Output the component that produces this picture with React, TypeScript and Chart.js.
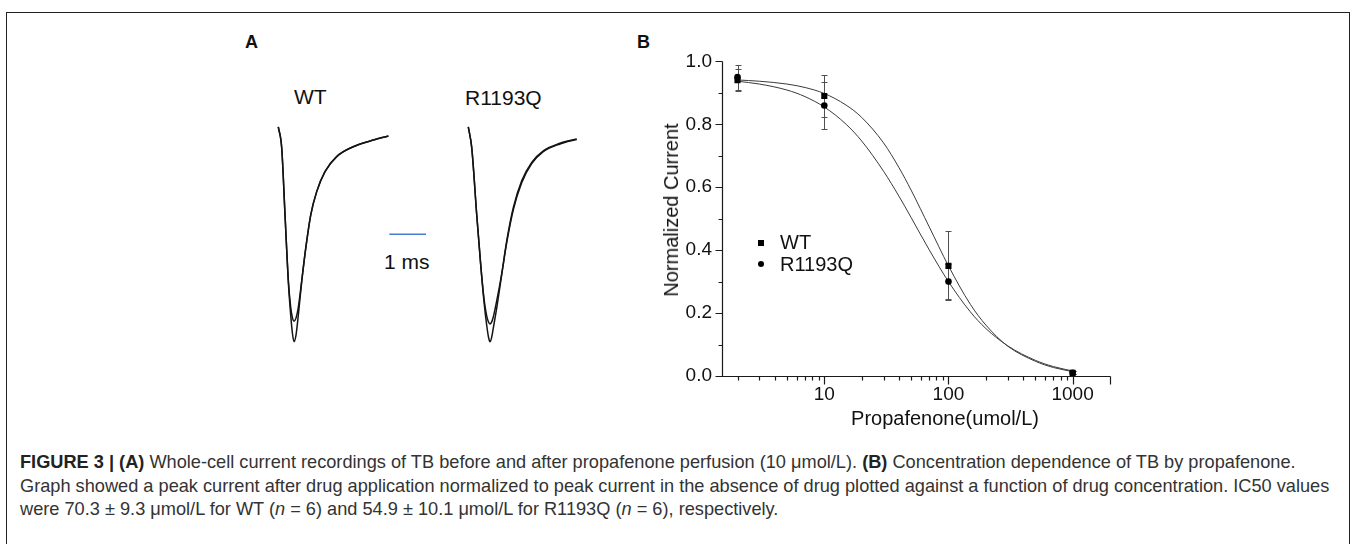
import React, { useEffect, useRef } from "react";
import { Chart, registerables } from "chart.js";

Chart.register(...registerables);

// ---------------- Panel A: whole-cell current traces (time in ms, current normalised to control peak)
const wtTime = [0, 0.093, 0.183, 0.272, 0.338, 0.387, 0.428, 0.482, 0.545, 0.638, 0.747, 0.883, 1.046, 1.272, 1.59, 2.04, 2.5, 3.0];
const wtControl = [0, -0.098, -0.41, -0.72, -0.876, -0.964, -1.0, -0.969, -0.876, -0.72, -0.565, -0.41, -0.301, -0.208, -0.138, -0.092, -0.065, -0.042];
const wtDrug = [0, -0.098, -0.41, -0.71, -0.84, -0.89, -0.904, -0.89, -0.84, -0.715, -0.565, -0.41, -0.301, -0.208, -0.138, -0.092, -0.065, -0.042];

const r1193qTime = [0, 0.093, 0.229, 0.338, 0.428, 0.501, 0.55, 0.591, 0.632, 0.681, 0.774, 0.91, 1.046, 1.226, 1.455, 1.728, 2.044, 2.499, 2.954];
const r1193qControl = [0, -0.095, -0.407, -0.641, -0.813, -0.922, -0.978, -1.0, -0.983, -0.937, -0.844, -0.688, -0.532, -0.376, -0.251, -0.165, -0.111, -0.076, -0.056];
const r1193qDrug = [0, -0.095, -0.407, -0.641, -0.8, -0.88, -0.908, -0.917, -0.91, -0.885, -0.81, -0.685, -0.54, -0.386, -0.26, -0.171, -0.115, -0.079, -0.058];

const scaleBarMs = 1;

// ---------------- Panel B: concentration dependence
const concentrations = [2, 10, 100, 1000];
const wtMean = [0.94, 0.89, 0.35, 0.01];
const wtErr = [0.035, 0.066, 0.11, 0.005];
const r1193qMean = [0.95, 0.86, 0.3, 0.01];
const r1193qErr = [0.04, 0.075, 0.056, 0.005];

// fitted curves
const fitConc = [2, 3, 5, 7, 10, 15, 20, 30, 40, 50, 70, 100, 150, 200, 300, 500, 700, 1000];
const wtFit = [0.941, 0.937, 0.928, 0.917, 0.898, 0.861, 0.822, 0.741, 0.662, 0.591, 0.474, 0.35, 0.228, 0.162, 0.095, 0.047, 0.027, 0.014];
const r1193qFit = [0.937, 0.928, 0.909, 0.888, 0.855, 0.8, 0.747, 0.651, 0.571, 0.504, 0.401, 0.3, 0.204, 0.151, 0.096, 0.05, 0.03, 0.016];

const xMajorTicks = [10, 100, 1000];
const xMinorTicks = [2, 3, 4, 5, 6, 7, 8, 9, 20, 30, 40, 50, 60, 70, 80, 90, 200, 300, 400, 500, 600, 700, 800, 900];
const xEndTicks = [2000];
const yMajorTicks = [0, 0.2, 0.4, 0.6, 0.8, 1.0];
const yMinorTicks = [0.1, 0.3, 0.5, 0.7, 0.9];

const FONT = "'Liberation Sans', Arial, Helvetica, sans-serif";

// ---------------- layout (positions only)
const A_BOX = { left: 260, top: 110, width: 340, height: 250 };
const A_X = { min: -0.499, max: 8.766 };
const A_Y = { min: -1.085, max: 0.079 };
const R_OFFSET = 5.177;
const BAR_START = 3.025;
const BAR_LEVEL = -0.5;

const B_BOX = { left: 600, top: 40, width: 540, height: 400 };

function TracesChart() {
  const ref = useRef<HTMLCanvasElement | null>(null);
  useEffect(() => {
    if (!ref.current) return;
    const trace = (t: number[], v: number[], off: number) => t.map((x, i) => ({ x: x + off, y: v[i] }));
    const lineDs = (data: any[], color = "#141414", w = 1.5) => ({
      data,
      borderColor: color,
      borderWidth: w,
      pointRadius: 0,
      fill: false,
      cubicInterpolationMode: "monotone" as const,
    });
    const chart = new Chart(ref.current, {
      type: "line",
      data: {
        datasets: [
          lineDs(trace(wtTime, wtControl, 0)),
          lineDs(trace(wtTime, wtDrug, 0)),
          lineDs(trace(r1193qTime, r1193qControl, R_OFFSET)),
          lineDs(trace(r1193qTime, r1193qDrug, R_OFFSET)),
          lineDs(
            [
              { x: BAR_START, y: BAR_LEVEL },
              { x: BAR_START + scaleBarMs, y: BAR_LEVEL },
            ],
            "#4a7bd0",
            1.5
          ),
        ],
      },
      options: {
        animation: false,
        responsive: false,
        maintainAspectRatio: false,
        layout: { padding: 0 },
        plugins: { legend: { display: false }, tooltip: { enabled: false } },
        scales: {
          x: { type: "linear", display: false, min: A_X.min, max: A_X.max },
          y: { type: "linear", display: false, min: A_Y.min, max: A_Y.max },
        },
      },
    });
    return () => chart.destroy();
  }, []);
  return (
    <canvas
      ref={ref}
      width={A_BOX.width}
      height={A_BOX.height}
      style={{ position: "absolute", left: A_BOX.left, top: A_BOX.top, width: A_BOX.width, height: A_BOX.height }}
    />
  );
}

function DoseChart() {
  const ref = useRef<HTMLCanvasElement | null>(null);
  useEffect(() => {
    if (!ref.current) return;
    const axesPlugin = {
      id: "bAxes",
      beforeDatasetsDraw(chart: any) {
        const { ctx, scales } = chart;
        const x = scales.x;
        const y = scales.y;
        ctx.save();
        ctx.strokeStyle = "#505050";
        ctx.lineWidth = 1;
        const bars = (means: number[], errs: number[]) => {
          means.forEach((m, i) => {
            const px = Math.round(x.getPixelForValue(concentrations[i])) + 0.5;
            const t = Math.round(y.getPixelForValue(m + errs[i])) + 0.5;
            const b = Math.round(y.getPixelForValue(m - errs[i])) + 0.5;
            ctx.beginPath();
            ctx.moveTo(px, t);
            ctx.lineTo(px, b);
            ctx.moveTo(px - 3, t);
            ctx.lineTo(px + 3, t);
            ctx.moveTo(px - 3, b);
            ctx.lineTo(px + 3, b);
            ctx.stroke();
          });
        };
        bars(wtMean, wtErr);
        bars(r1193qMean, r1193qErr);
        ctx.restore();
      },
      afterDraw(chart: any) {
        const { ctx, scales } = chart;
        const x = scales.x;
        const y = scales.y;
        const x0 = Math.round(x.getPixelForValue(x.min)) + 0.5;
        const x1 = Math.round(x.getPixelForValue(x.max)) + 0.5;
        const y0 = Math.round(y.getPixelForValue(0)) + 0.5;
        const y1 = Math.round(y.getPixelForValue(1)) + 0.5;
        ctx.save();
        ctx.strokeStyle = "#1a1a1a";
        ctx.lineWidth = 1.2;
        ctx.beginPath();
        ctx.moveTo(x0, y1);
        ctx.lineTo(x0, y0);
        ctx.lineTo(x1, y0);
        ctx.stroke();
        ctx.beginPath();
        yMajorTicks.forEach((v) => {
          const p = Math.round(y.getPixelForValue(v)) + 0.5;
          ctx.moveTo(x0, p);
          ctx.lineTo(x0 - 7, p);
        });
        yMinorTicks.forEach((v) => {
          const p = Math.round(y.getPixelForValue(v)) + 0.5;
          ctx.moveTo(x0, p);
          ctx.lineTo(x0 - 4, p);
        });
        [...xMajorTicks, ...xEndTicks].forEach((v) => {
          const p = Math.round(x.getPixelForValue(v)) + 0.5;
          ctx.moveTo(p, y0);
          ctx.lineTo(p, y0 + 8);
        });
        xMinorTicks.forEach((v) => {
          const p = Math.round(x.getPixelForValue(v)) + 0.5;
          ctx.moveTo(p, y0);
          ctx.lineTo(p, y0 + 4);
        });
        ctx.stroke();
        ctx.restore();
      },
    };

    const chart = new Chart(ref.current, {
      type: "line",
      data: {
        datasets: [
          {
            label: "WT",
            data: concentrations.map((c, i) => ({ x: c, y: wtMean[i] })),
            showLine: false,
            pointStyle: "rect",
            pointRadius: 4.3,
            backgroundColor: "#000",
            borderColor: "#000",
            borderWidth: 0,
            order: 0,
          },
          {
            label: "R1193Q",
            data: concentrations.map((c, i) => ({ x: c, y: r1193qMean[i] })),
            showLine: false,
            pointStyle: "circle",
            pointRadius: 3.3,
            backgroundColor: "#000",
            borderColor: "#000",
            borderWidth: 0,
            order: 1,
          },
          {
            label: "WT fit",
            data: fitConc.map((c, i) => ({ x: c, y: wtFit[i] })),
            borderColor: "#3a3a3a",
            borderWidth: 1,
            pointRadius: 0,
            fill: false,
            cubicInterpolationMode: "monotone",
            order: 2,
          },
          {
            label: "R1193Q fit",
            data: fitConc.map((c, i) => ({ x: c, y: r1193qFit[i] })),
            borderColor: "#3a3a3a",
            borderWidth: 1,
            pointRadius: 0,
            fill: false,
            cubicInterpolationMode: "monotone",
            order: 3,
          },
        ],
      },
      options: {
        animation: false,
        responsive: false,
        maintainAspectRatio: false,
        layout: { padding: { top: 17, right: 30, left: 0, bottom: 0 } },
        plugins: { legend: { display: false }, tooltip: { enabled: false } },
        scales: {
          x: {
            type: "logarithmic",
            min: 1.5,
            max: 2000,
            grid: { display: false, drawTicks: false },
            border: { display: false },
            ticks: {
              color: "#111",
              font: { family: FONT, size: 19 },
              padding: 7,
              autoSkip: false,
              maxRotation: 0,
              callback: (v: any) => String(v),
            },
            afterBuildTicks: (s: any) => {
              s.ticks = xMajorTicks.map((v) => ({ value: v }));
            },
            afterFit: (s: any) => {
              s.height = 64;
            },
          },
          y: {
            type: "linear",
            min: 0,
            max: 1,
            grid: { display: false, drawTicks: false },
            border: { display: false },
            ticks: {
              color: "#111",
              font: { family: FONT, size: 19 },
              padding: 10,
              stepSize: 0.2,
              callback: (v: any) => Number(v).toFixed(1),
            },
            afterBuildTicks: (s: any) => {
              s.ticks = yMajorTicks.map((v) => ({ value: v }));
            },
            afterFit: (s: any) => {
              s.width = 122;
            },
          },
        },
      },
      plugins: [axesPlugin],
    });
    return () => chart.destroy();
  }, []);
  return (
    <canvas
      ref={ref}
      width={B_BOX.width}
      height={B_BOX.height}
      style={{ position: "absolute", left: B_BOX.left, top: B_BOX.top, width: B_BOX.width, height: B_BOX.height }}
    />
  );
}

const abs = (left: number, top: number, extra: React.CSSProperties = {}): React.CSSProperties => ({
  position: "absolute",
  left,
  top,
  whiteSpace: "nowrap",
  ...extra,
});

export default function App() {
  const capLine: React.CSSProperties = { whiteSpace: "nowrap", height: 23.5, lineHeight: "23.5px" };
  return (
    <div
      style={{
        position: "absolute",
        left: 0,
        top: 0,
        width: 1357,
        height: 544,
        overflow: "hidden",
        background: "#fff",
        fontFamily: FONT,
        color: "#111",
      }}
    >
      <div
        style={{
          position: "absolute",
          left: 6,
          top: 12,
          width: 1344,
          height: 532,
          boxSizing: "border-box",
          border: "1px solid #222",
          borderBottom: "none",
        }}
      />
      {/* panel letters */}
      <div style={abs(245, 31, { fontWeight: "bold", fontSize: 18, lineHeight: "22px" })}>A</div>
      <div style={abs(637, 31, { fontWeight: "bold", fontSize: 18, lineHeight: "22px" })}>B</div>

      {/* panel A labels */}
      <div style={abs(294, 85, { fontSize: 21, lineHeight: "24px" })}>WT</div>
      <div style={abs(465, 86, { fontSize: 21, lineHeight: "24px" })}>R1193Q</div>
      <div style={abs(384, 250, { fontSize: 21, lineHeight: "24px" })}>1 ms</div>
      <TracesChart />

      {/* panel B */}
      <DoseChart />
      <div style={abs(945, 418, { fontSize: 20, lineHeight: "24px", transform: "translate(-50%, -50%)" })}>
        Propafenone(umol/L)
      </div>
      <div
        style={abs(671, 210, {
          fontSize: 20,
          lineHeight: "24px",
          transform: "translate(-50%, -50%) rotate(-90deg)",
        })}
      >
        Normalized Current
      </div>
      {/* legend */}
      <div style={abs(758, 240, { width: 6, height: 6, background: "#000" })} />
      <div style={abs(758, 261, { width: 6, height: 6, background: "#000", borderRadius: "50%" })} />
      <div style={abs(780, 230, { fontSize: 20, lineHeight: "24px" })}>WT</div>
      <div style={abs(780, 252, { fontSize: 20, lineHeight: "24px" })}>R1193Q</div>

      {/* caption */}
      <div style={abs(20, 451, { fontSize: 18.2, color: "#333" })}>
        <div style={capLine}>
          <b style={{ color: "#222" }}>FIGURE 3 | (A)</b> Whole-cell current recordings of TB before and after propafenone perfusion
          (10 μmol/L). <b style={{ color: "#222" }}>(B)</b> Concentration dependence of TB by propafenone.
        </div>
        <div style={capLine}>
          Graph showed a peak current after drug application normalized to peak current in the absence of drug plotted
          against a function of drug concentration. IC50 values
        </div>
        <div style={capLine}>
          were 70.3 ± 9.3 μmol/L for WT (<i>n</i> = 6) and 54.9 ± 10.1 μmol/L for R1193Q (<i>n</i> = 6), respectively.
        </div>
      </div>
    </div>
  );
}
